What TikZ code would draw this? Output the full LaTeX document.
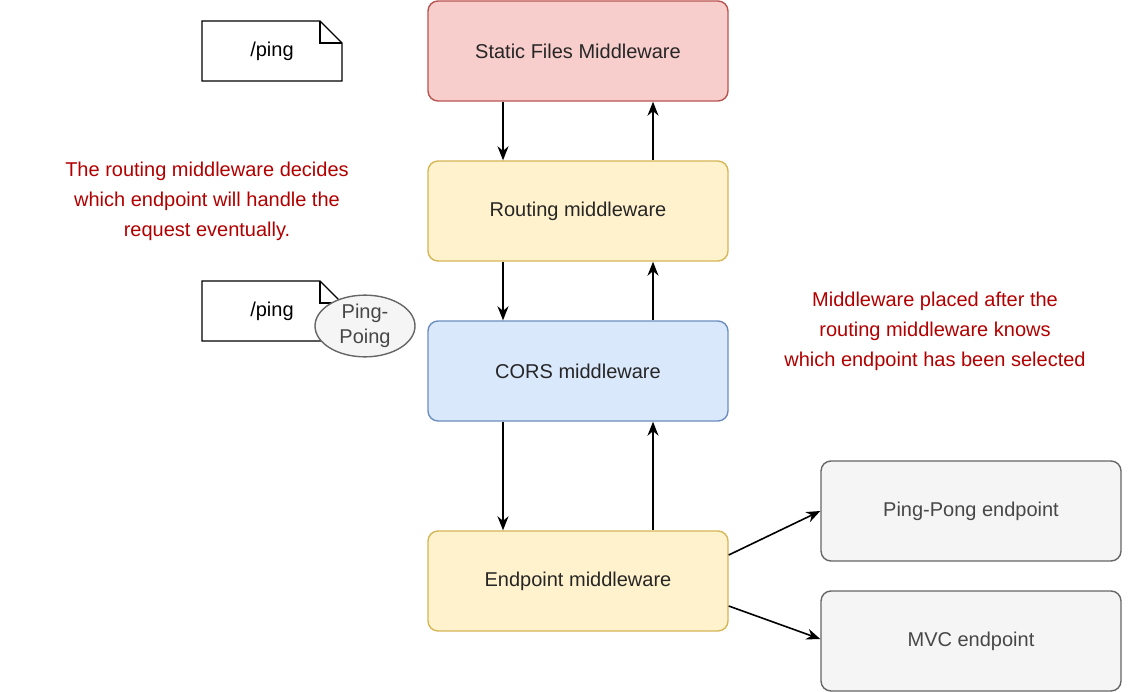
\documentclass[tikz,border=0pt]{standalone}
\usepackage{fontspec}
\setmainfont{Liberation Sans}
\usetikzlibrary{arrows.meta,shapes.geometric}
\definecolor{redfill}{HTML}{F8CECC}\definecolor{redline}{HTML}{B85450}
\definecolor{yelfill}{HTML}{FFF2CC}\definecolor{yelline}{HTML}{D6B656}
\definecolor{bluefill}{HTML}{DAE8FC}\definecolor{blueline}{HTML}{6C8EBF}
\definecolor{greyfill}{HTML}{F5F5F5}\definecolor{greyline}{HTML}{666666}
\definecolor{notered}{HTML}{B20000}
\tikzset{
  mw/.style={draw, line width=1.4pt, rounded corners=10pt, minimum width=300pt, minimum height=100pt, font=\fontsize{20}{24}\selectfont, text=black!85},
  flow/.style={-{Stealth[length=14pt,width=11pt]}, line width=1.6pt},
  remark/.style={text=notered, align=center, font=\fontsize{20}{30}\selectfont}
}
\begin{document}
\begin{tikzpicture}[x=1pt,y=-1pt]
\useasboundingbox (0,0) rectangle (1142,692);
\node[mw, fill=redfill, draw=redline] (static) at (578,51) {Static Files Middleware};
\node[mw, fill=yelfill, draw=yelline] (route) at (578,211) {Routing middleware};
\node[mw, fill=bluefill, draw=blueline] (cors) at (578,371) {CORS middleware};
\node[mw, fill=yelfill, draw=yelline] (endp) at (578,581) {Endpoint middleware};
\node[mw, fill=greyfill, draw=greyline, text=greyline!70!black] (ping) at (971,511) {Ping-Pong endpoint};
\node[mw, fill=greyfill, draw=greyline, text=greyline!70!black] (mvc) at (971,641) {MVC endpoint};

% request goes down, response goes up
\foreach \a/\b in {static/route, route/cors, cors/endp}{
  \draw[flow] ([xshift=-75pt]\a.south) -- ([xshift=-75pt]\b.north);
  \draw[flow] ([xshift=75pt]\b.north) -- ([xshift=75pt]\a.south);
}
\draw[flow] ([yshift=26pt]endp.east) -- (ping.west);
\draw[flow] ([yshift=-25pt]endp.east) -- ([yshift=2pt]mvc.west);

% notes
\foreach \n/\y in {noteA/21, noteB/281}{
  \draw[line width=1.4pt, fill=white] (202,\y) -- (320,\y) -- (342,\y+22) -- (342,\y+60) -- (202,\y+60) -- cycle;
  \draw[line width=1.4pt] (320,\y) -- (320,\y+22) -- (342,\y+22);
  \node[font=\fontsize{20}{24}\selectfont] (\n) at (272,\y+30) {/ping};
}
\node[ellipse, draw=greyline, line width=1.4pt, fill=greyfill, minimum width=100pt, minimum height=50pt, inner sep=0pt, align=center, text=greyline!70!black, font=\fontsize{20}{25}\selectfont] (pp) at (365,326) {Ping-\\Poing};

\node[remark] (noteL) at (207,201) {The routing middleware decides\\which endpoint will handle the\\request eventually.};
\node[remark] (noteR) at (935,331) {Middleware placed after the\\routing middleware knows\\which endpoint has been selected};
\end{tikzpicture}
\end{document}
